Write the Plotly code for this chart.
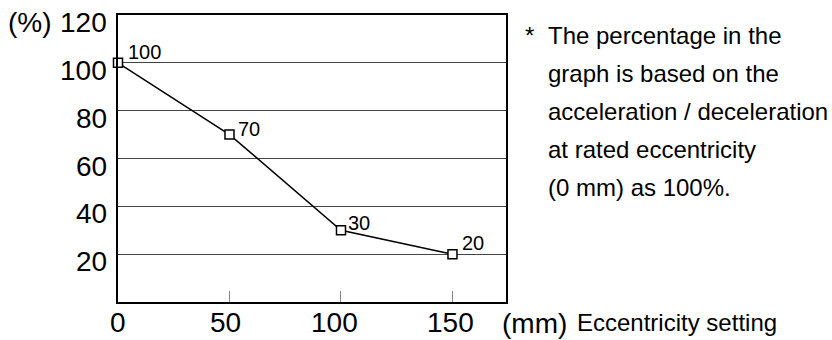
import plotly.graph_objects as go

# Eccentricity setting (mm) vs. acceleration / deceleration ratio (%)
eccentricity = [0, 50, 100, 150]
ratio = [100, 70, 30, 20]
point_labels = ["100", "70", "30", "20"]

x_ticks = [0, 50, 100, 150]
y_ticks = [20, 40, 60, 80, 100, 120]

note_lines = [
    "The percentage in the",
    "graph is based on the",
    "acceleration / deceleration",
    "at rated eccentricity",
    "(0 mm) as 100%.",
]

FONT = "Liberation Sans, Arial, Helvetica, sans-serif"
TICK_SIZE = 28
TEXT_SIZE = 24

fig = go.Figure()
fig.add_trace(go.Scatter(
    x=eccentricity, y=ratio, mode="lines+markers",
    line=dict(color="black", width=1.5),
    marker=dict(symbol="square", size=9, color="white",
                line=dict(color="black", width=1.5)),
    cliponaxis=False, showlegend=False, hoverinfo="skip",
))

# value labels next to each point
label_shift = [(7.5, 10.5), (6.5, 5.5), (5.5, 7), (7.5, 11.5)]
for xv, yv, txt, (dx, dy) in zip(eccentricity, ratio, point_labels, label_shift):
    fig.add_annotation(x=xv, y=yv, text=txt, showarrow=False,
                       xanchor="left", yanchor="middle", xshift=dx, yshift=dy,
                       font=dict(family=FONT, size=20, color="black"))

# y tick labels, set slightly below their gridlines
for v in y_ticks:
    fig.add_annotation(xref="paper", x=0, y=v, text=str(v), showarrow=False,
                       xanchor="right", yanchor="middle", xshift=-9, yshift=-7.5,
                       font=dict(family=FONT, size=TICK_SIZE, color="black"))

# x tick labels
x_label_shift = [0, -4, -6, -2]
for v, dx in zip(x_ticks, x_label_shift):
    fig.add_annotation(x=v, yref="paper", y=0, text=str(v), showarrow=False,
                       xanchor="center", yanchor="middle", xshift=dx, yshift=-20,
                       font=dict(family=FONT, size=TICK_SIZE, color="black"))

# unit on the y axis
fig.add_annotation(xref="paper", yref="paper", x=0, y=1, text="(%)",
                   showarrow=False, xanchor="right", yanchor="middle",
                   xshift=-64, yshift=-7.5,
                   font=dict(family=FONT, size=TICK_SIZE, color="black"))

# x axis unit and title
fig.add_annotation(xref="paper", yref="paper", x=1, y=0, text="(mm)",
                   showarrow=False, xanchor="left", yanchor="middle",
                   xshift=-6, yshift=-21,
                   font=dict(family=FONT, size=TICK_SIZE, color="black"))
fig.add_annotation(xref="paper", yref="paper", x=1, y=0, text="Eccentricity setting",
                   showarrow=False, xanchor="left", yanchor="middle",
                   xshift=69, yshift=-20,
                   font=dict(family=FONT, size=TEXT_SIZE, color="black"))

# explanatory note
fig.add_annotation(xref="paper", yref="paper", x=1, y=1, text="*",
                   showarrow=False, xanchor="left", yanchor="middle",
                   xshift=17, yshift=-20,
                   font=dict(family=FONT, size=TEXT_SIZE, color="black"))
for i, line in enumerate(note_lines):
    fig.add_annotation(xref="paper", yref="paper", x=1, y=1, text=line,
                       showarrow=False, xanchor="left", yanchor="middle",
                       xshift=40, yshift=-20.5 - 37.9 * i,
                       font=dict(family=FONT, size=TEXT_SIZE, color="black"))

fig.update_xaxes(
    range=[0, 174], tickvals=x_ticks, showticklabels=False,
    ticks="inside", ticklen=11, tickwidth=1, tickcolor="#888",
    showline=True, linecolor="black", linewidth=2, mirror=True,
    showgrid=False, zeroline=False, automargin=False,
)
fig.update_yaxes(
    range=[0, 120], tickvals=y_ticks, showticklabels=False,
    ticks="", showline=True, linecolor="black", linewidth=2, mirror=True,
    showgrid=True, gridcolor="#444", gridwidth=1, zeroline=False,
    automargin=False,
)

fig.update_layout(
    width=832, height=340,
    margin=dict(l=118, r=326, t=15, b=38),
    paper_bgcolor="white", plot_bgcolor="white",
    showlegend=False,
)

fig.write_html("out.html")
